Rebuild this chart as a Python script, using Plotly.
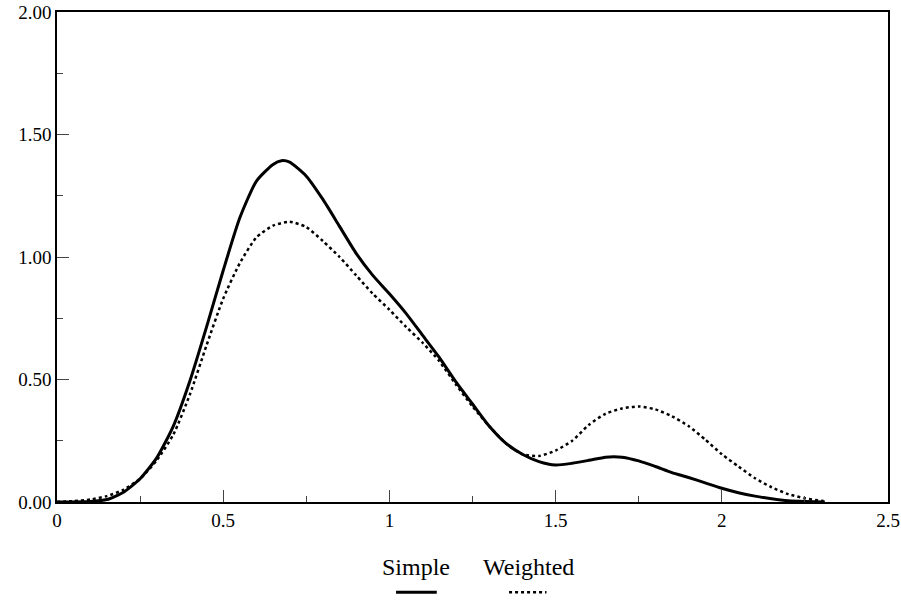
import plotly.graph_objects as go

x_simple = [0.00, 0.10, 0.15, 0.20, 0.25, 0.30, 0.35, 0.40, 0.45, 0.50, 0.55, 0.60, 0.65, 0.675, 0.70,
            0.75, 0.80, 0.85, 0.90, 0.95, 1.00, 1.05, 1.10, 1.15, 1.20, 1.25, 1.30, 1.35, 1.40, 1.45,
            1.50, 1.55, 1.60, 1.65, 1.675, 1.70, 1.75, 1.80, 1.85, 1.90, 1.95, 2.00, 2.05, 2.10, 2.15,
            2.20, 2.25, 2.31]
y_simple = [0.000, 0.002, 0.010, 0.040, 0.095, 0.180, 0.310, 0.495, 0.715, 0.945, 1.160, 1.310, 1.378, 1.393, 1.387,
            1.330, 1.235, 1.125, 1.015, 0.925, 0.850, 0.770, 0.680, 0.590, 0.490, 0.400, 0.310, 0.240, 0.195, 0.165,
            0.151, 0.158, 0.170, 0.183, 0.185, 0.183, 0.168, 0.145, 0.120, 0.100, 0.078, 0.056, 0.038, 0.024, 0.013,
            0.005, 0.002, 0.000]

x_weighted = [0.00, 0.05, 0.10, 0.15, 0.20, 0.25, 0.30, 0.35, 0.40, 0.45, 0.50, 0.55, 0.60, 0.65, 0.70,
              0.75, 0.80, 0.85, 0.90, 0.95, 1.00, 1.05, 1.10, 1.15, 1.20, 1.25, 1.30, 1.35, 1.40, 1.45,
              1.50, 1.55, 1.60, 1.65, 1.70, 1.75, 1.80, 1.85, 1.90, 1.95, 2.00, 2.05, 2.10, 2.15, 2.20,
              2.25, 2.30, 2.31]
y_weighted = [0.000, 0.004, 0.010, 0.024, 0.050, 0.095, 0.170, 0.275, 0.440, 0.640, 0.830, 0.975, 1.080, 1.128, 1.144,
              1.122, 1.065, 1.000, 0.925, 0.850, 0.785, 0.715, 0.650, 0.575, 0.480, 0.390, 0.310, 0.240, 0.195, 0.188,
              0.210, 0.250, 0.315, 0.360, 0.382, 0.390, 0.378, 0.350, 0.310, 0.255, 0.195, 0.145, 0.097, 0.060, 0.032,
              0.015, 0.005, 0.003]

series_names = ["Simple", "Weighted"]

FONT = "Liberation Serif"

fig = go.Figure()
fig.add_trace(go.Scatter(x=x_simple, y=y_simple, mode="lines", name=series_names[0],
                         line=dict(color="black", width=3, shape="spline", smoothing=0.6)))
fig.add_trace(go.Scatter(x=x_weighted, y=y_weighted, mode="lines", name=series_names[1],
                         line=dict(color="black", width=2.5, dash="dot", shape="spline", smoothing=0.6)))

axis_common = dict(showgrid=False, zeroline=False, showline=True, linecolor="black", linewidth=1.5,
                   mirror=True, ticks="inside", tickcolor="#444", tickwidth=1, ticklen=12,
                   automargin=False, ticklabeloverflow="allow",
                   tickfont=dict(family=FONT, size=19, color="black"))

fig.update_xaxes(range=[0, 2.5], dtick=0.5, tick0=0,
                 minor=dict(ticks="inside", ticklen=6, dtick=0.25, tickcolor="#444"),
                 **axis_common)
fig.update_yaxes(range=[0, 2], dtick=0.5, tick0=0, tickformat=".2f",
                 minor=dict(ticks="inside", ticklen=6, dtick=0.25, tickcolor="#444"),
                 **axis_common)

# legend drawn below the plot: label above line sample
leg_font = dict(family="Liberation Serif, serif", size=24, color="black")
fig.add_annotation(x=0.432, y=-0.132, xref="paper", yref="paper", text=series_names[0], showarrow=False,
                   font=leg_font, xanchor="center", yanchor="middle")
fig.add_annotation(x=0.567, y=-0.132, xref="paper", yref="paper", text=series_names[1], showarrow=False,
                   font=leg_font, xanchor="center", yanchor="middle")
fig.add_shape(type="line", xref="paper", yref="paper", x0=0.408, x1=0.457, y0=-0.184, y1=-0.184,
              line=dict(color="black", width=3))
fig.add_shape(type="line", xref="paper", yref="paper", x0=0.544, x1=0.589, y0=-0.184, y1=-0.184,
              line=dict(color="black", width=2.5, dash="dot"))

fig.update_layout(width=901, height=602, margin=dict(l=57, r=13, t=12, b=100),
                  paper_bgcolor="white", plot_bgcolor="white", showlegend=False,
                  font=dict(family=FONT, size=19, color="black"))

fig.write_html("out.html", config={"displayModeBar": False},
               post_script="document.body.style.margin='0';document.body.style.overflow='hidden';")
